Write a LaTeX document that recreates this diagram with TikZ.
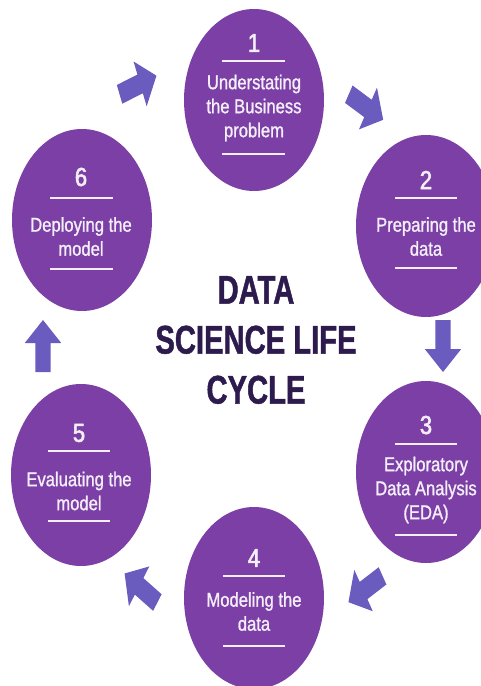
\documentclass[tikz,border=0pt]{standalone}
\usepackage{fontspec}
\setmainfont{Liberation Sans}
\newfontfamily\bodyfont[FakeStretch=0.83,FakeBold=1.2]{Liberation Sans}
\newfontfamily\numfont[FakeStretch=0.85,FakeBold=2.2]{Liberation Sans}
\newfontfamily\titlefont[FakeStretch=0.73,FakeBold=1.2]{Liberation Sans}
\usetikzlibrary{shapes.geometric}
\definecolor{circ}{HTML}{7B3FA6}
\definecolor{arr}{HTML}{6A5BBE}
\definecolor{ttl}{HTML}{2D1B4E}
\definecolor{txt}{HTML}{F4EEF8}
\newcommand\blockarrow[3]{%
  \fill[arr, shift={(#1,#2)}, xscale=0.76, rotate=#3]
    (-26,-10) -- (3,-10) -- (3,-24) -- (26,0) -- (3,24) -- (3,10) -- (-26,10) -- cycle;}
\begin{document}
\begin{tikzpicture}[x=1pt,y=-1pt,
  stage/.style={ellipse, fill=circ, minimum width=140pt, minimum height=182pt, inner sep=0pt},
  num/.style={text=txt, font=\numfont\fontsize{26}{26}\selectfont, inner sep=0pt},
  body/.style={text=txt, font=\bodyfont\fontsize{20}{24}\selectfont, align=center, inner sep=0pt},
  rule/.style={draw=txt, line width=1.5pt},
  title/.style={text=ttl, font=\titlefont\bfseries\fontsize{40}{50}\selectfont, align=center, inner sep=0pt}
]
\useasboundingbox (0,0) rectangle (481,686);
\clip (0,0) rectangle (481,686);

% stages
\node[stage] (c1) at (254,100) {};
\node[stage] (c2) at (426,226) {};
\node[stage] (c3) at (426,472) {};
\node[stage] (c4) at (254,598) {};
\node[stage] (c5) at (81,475) {};
\node[stage] (c6) at (82,220) {};

% stage 1
\node[num] (n1) at (254,43) {1};
\draw[rule] (222,61) -- (285,61);
\node[body] (t1) at (254,108) {Understating\\the Business\\problem};
\draw[rule] (222,154) -- (285,154);

% stage 2
\node[num] (n2) at (426,180) {2};
\draw[rule] (395,198) -- (457,198);
\node[body] (t2) at (426,236.5) {Preparing the\\data};
\draw[rule] (395,268) -- (457,268);

% stage 3
\node[num] (n3) at (426,425) {3};
\draw[rule] (395,444) -- (457,444);
\node[body] (t3) at (426,490) {Exploratory\\Data Analysis\\(EDA)};
\draw[rule] (395,535) -- (457,535);

% stage 4
\node[num] (n4) at (254,558) {4};
\draw[rule] (223,576) -- (285,576);
\node[body] (t4) at (254,611.5) {Modeling the\\data};
\draw[rule] (223,646) -- (285,646);

% stage 5
\node[num] (n5) at (79,433) {5};
\draw[rule] (48,451) -- (110,451);
\node[body] (t5) at (79,491) {Evaluating the\\model};
\draw[rule] (48,521) -- (110,521);

% stage 6
\node[num] (n6) at (81,177) {6};
\draw[rule] (50,198) -- (113,198);
\node[body] (t6) at (81,236.5) {Deploying the\\model};
\draw[rule] (50,269) -- (113,269);

% title
\node[title] (ttl) at (256,340) {DATA\\SCIENCE LIFE\\CYCLE};

% arrows
\blockarrow{138}{85}{21}
\blockarrow{366}{107}{-29.5}
\blockarrow{443}{346}{-90}
\blockarrow{365.5}{589}{-149.6}
\blockarrow{141}{588}{146}
\blockarrow{43}{346}{90}
\end{tikzpicture}
\end{document}
